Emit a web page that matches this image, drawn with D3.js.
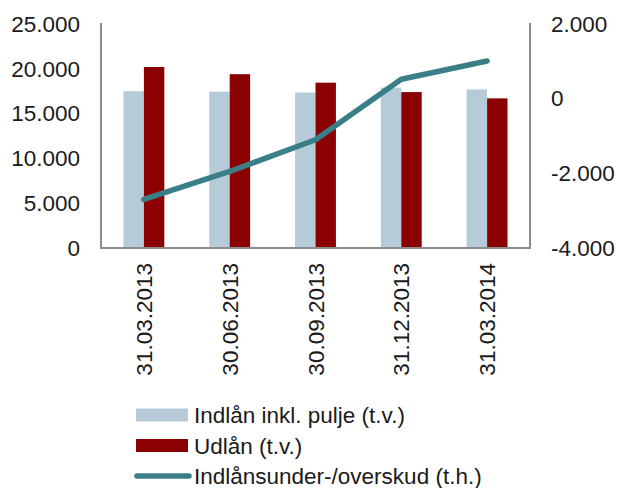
<!DOCTYPE html>
<html><head><meta charset="utf-8">
<script src="https://cdn.jsdelivr.net/npm/d3@7"></script>
<style>html,body{margin:0;padding:0;background:#fff;}svg{display:block;font-family:"Liberation Sans",Arial,Helvetica,sans-serif;}</style>
</head><body>
<script>
const categories = ["31.03.2013","30.06.2013","30.09.2013","31.12.2013","31.03.2014"];
const indlaan = [17500, 17450, 17350, 17900, 17700];
const udlaan = [20200, 19400, 18450, 17400, 16700];
const balance = [-2700, -1950, -1100, 520, 1010];
const leftTicks = [0, 5000, 10000, 15000, 20000, 25000];
const rightTicks = [-4000, -2000, 0, 2000];
const legendLabels = ["Indlån inkl. pulje (t.v.)", "Udlån (t.v.)", "Indlånsunder-/overskud (t.h.)"];

const W = 617, H = 488;
const m = {left: 101, right: 530, top: 24, bottom: 248};
const colors = {ind: "#b5cbd8", ud: "#8b0000", line: "#3a7f87", axis: "#8c8c8c", text: "#1a1a1a"};
const FS = 22.5;
const fmt = v => d3.format(",")(v).replace(/,/g, ".").replace("−","-");

const svg = d3.select("body").append("svg").attr("width", W).attr("height", H);

const x = d3.scaleBand().domain(categories).range([m.left, m.right]);
const yL = d3.scaleLinear().domain([0, 25000]).range([m.bottom, m.top]);
const yR = d3.scaleLinear().domain([-4000, 2000]).range([m.bottom, m.top]);
const bw = x.bandwidth() * 0.238;

const g = svg.append("g");
g.selectAll("rect.ind").data(categories).join("rect").attr("class","ind")
  .attr("x", d => x(d) + x.bandwidth()/2 - bw).attr("width", bw)
  .attr("y", (d,i) => yL(indlaan[i])).attr("height", (d,i) => yL(0) - yL(indlaan[i]))
  .attr("fill", colors.ind);
g.selectAll("rect.ud").data(categories).join("rect").attr("class","ud")
  .attr("x", d => x(d) + x.bandwidth()/2).attr("width", bw)
  .attr("y", (d,i) => yL(udlaan[i])).attr("height", (d,i) => yL(0) - yL(udlaan[i]))
  .attr("fill", colors.ud);

// axes
const axL = svg.append("g").attr("transform", `translate(${m.left},0)`)
  .call(d3.axisLeft(yL).tickValues(leftTicks).tickSize(0).tickPadding(21).tickFormat(fmt));
const axR = svg.append("g").attr("transform", `translate(${m.right},0)`)
  .call(d3.axisRight(yR).tickValues(rightTicks).tickSize(0).tickPadding(21).tickFormat(fmt));
const axB = svg.append("g").attr("transform", `translate(0,${m.bottom})`)
  .call(d3.axisBottom(x).tickSize(0).tickPadding(0));
[axL, axR, axB].forEach(a => {
  a.select(".domain").attr("stroke", colors.axis).attr("stroke-width", 2);
  a.selectAll("text").attr("font-size", FS).attr("fill", colors.text).attr("font-family", '"Liberation Sans",Arial,sans-serif');
});
axL.select(".domain").attr("d", `M0,${m.top-1}V${m.bottom}`);
axR.select(".domain").attr("d", `M0,${m.top-1}V${m.bottom}`);
axB.select(".domain").attr("d", `M${m.left-1},0H${m.right+1}`);
axB.selectAll(".tick text").attr("transform", "rotate(-90)").attr("text-anchor", "end")
  .attr("x", -15).attr("y", 0).attr("dy", "0.36em");

// line
const line = d3.line().x((d,i) => x(categories[i]) + x.bandwidth()/2).y(d => yR(d));
svg.append("path").datum(balance).attr("d", line).attr("fill", "none")
  .attr("stroke", colors.line).attr("stroke-width", 5.5).attr("stroke-linecap", "round").attr("stroke-linejoin", "round");

// legend
const leg = svg.append("g");
const ly = [415, 445.5, 476];
leg.append("rect").attr("x", 136).attr("y", ly[0]-6.5).attr("width", 52).attr("height", 13).attr("fill", colors.ind);
leg.append("rect").attr("x", 136).attr("y", ly[1]-6.5).attr("width", 52).attr("height", 13).attr("fill", colors.ud);
leg.append("line").attr("x1", 137).attr("x2", 189).attr("y1", ly[2]).attr("y2", ly[2])
  .attr("stroke", colors.line).attr("stroke-width", 5.5).attr("stroke-linecap", "round");
leg.selectAll("text").data(legendLabels).join("text")
  .attr("x", 194).attr("y", (d,i) => ly[i]).attr("dy", "0.36em")
  .attr("font-size", FS).attr("fill", colors.text).text(d => d);
</script>
</body></html>
